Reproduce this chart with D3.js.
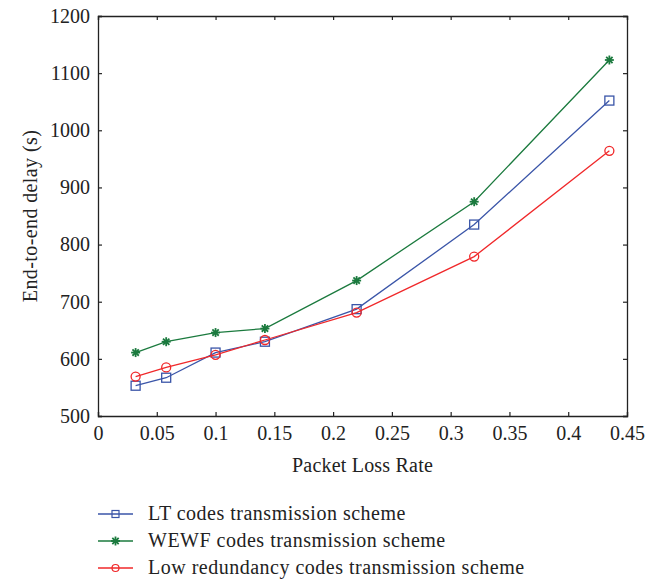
<!DOCTYPE html>
<html>
<head>
<meta charset="utf-8">
<script src="https://cdn.jsdelivr.net/npm/d3@7"></script>
<style>
  body { margin: 0; background: #fff; }
  text { font-family: "Liberation Serif", "DejaVu Serif", serif; fill: #222; }
</style>
</head>
<body>
<svg id="chart" width="665" height="580"></svg>
<script>
// data
const lossRate = [0.032, 0.058, 0.1, 0.142, 0.22, 0.32, 0.435]
const ltDelay = [553, 567, 611, 630, 687, 835, 1052]
const wewfDelay = [611, 630, 646, 653, 737, 875, 1123]
const lowRedDelay = [569, 585, 607, 633, 681, 779, 964]
const xTicks = [0, 0.05, 0.1, 0.15, 0.2, 0.25, 0.3, 0.35, 0.4, 0.45]
const yTicks = [500, 600, 700, 800, 900, 1000, 1100, 1200]
const seriesNames = ["LT codes transmission scheme", "WEWF codes transmission scheme", "Low redundancy codes transmission scheme"]
const seriesColors = ["#3a55a8", "#1b7a3e", "#f0282a"]
const seriesMarkers = ["square", "star", "circle"]

const series = [ltDelay, wewfDelay, lowRedDelay].map((vals, i) => ({
    name: seriesNames[i],
    color: seriesColors[i],
    marker: seriesMarkers[i],
    points: vals.map((v, j) => [lossRate[j], v])
}))

const svg = d3.select("#chart")
const plotL = 98, plotT = 16, plotR = 627, plotB = 416

let x = d3.scaleLinear().domain([0, 0.45]).range([plotL, plotR])
let y = d3.scaleLinear().domain([500, 1200]).range([plotB, plotT])

// axes: ticks pointing inward, box on all sides
const fmtX = d => d === 0 ? "0" : String(d)
svg.append("g").attr("transform", `translate(0,${plotB})`)
    .call(d3.axisBottom(x).tickValues(xTicks).tickSize(-4).tickPadding(10).tickFormat(fmtX))
svg.append("g").attr("transform", `translate(0,${plotT})`)
    .call(d3.axisTop(x).tickValues(xTicks).tickSize(-4).tickFormat(""))
svg.append("g").attr("transform", `translate(${plotL},0)`)
    .call(d3.axisLeft(y).tickValues(yTicks).tickSize(-4).tickPadding(8).tickFormat(d3.format("d")))
svg.append("g").attr("transform", `translate(${plotR},0)`)
    .call(d3.axisRight(y).tickValues(yTicks).tickSize(-4).tickFormat(""))

svg.selectAll(".domain").attr("stroke", "#222").attr("stroke-width", 1.3)
svg.selectAll(".tick line").attr("stroke", "#222").attr("stroke-width", 1.2)
svg.selectAll(".tick text").attr("font-size", 20).attr("fill", "#222")
    .attr("font-family", "Liberation Serif, serif")

// axis titles
svg.append("text")
    .attr("x", (plotL + plotR) / 2).attr("y", 472)
    .attr("text-anchor", "middle").attr("font-size", 20).attr("letter-spacing", 0.2)
    .text("Packet Loss Rate")
svg.append("text")
    .attr("transform", `translate(37,${(plotT + plotB) / 2}) rotate(-90)`)
    .attr("text-anchor", "middle").attr("font-size", 20).attr("letter-spacing", 0.4)
    .text("End-to-end delay (s)")

function drawMarker(g, type, color, cx, cy) {
    if (type == "square") {
        g.append("rect").attr("x", cx - 4.5).attr("y", cy - 4.5)
            .attr("width", 9).attr("height", 9)
            .attr("fill", "none").attr("stroke", color).attr("stroke-width", 1.3)
    } else if (type == "circle") {
        g.append("circle").attr("cx", cx).attr("cy", cy).attr("r", 4.5)
            .attr("fill", "none").attr("stroke", color).attr("stroke-width", 1.3)
    } else {
        const r = 4.5
        for (let k = 0; k < 4; k++) {
            const a = k * Math.PI / 4
            g.append("line")
                .attr("x1", cx - r * Math.cos(a)).attr("y1", cy - r * Math.sin(a))
                .attr("x2", cx + r * Math.cos(a)).attr("y2", cy + r * Math.sin(a))
                .attr("stroke", color).attr("stroke-width", 1.8)
        }
        g.append("circle").attr("cx", cx).attr("cy", cy).attr("r", 2).attr("fill", color)
    }
}

const line = d3.line().x(d => x(d[0])).y(d => y(d[1]))

series.forEach(s => {
    const g = svg.append("g")
    g.append("path").datum(s.points)
        .attr("d", line).attr("fill", "none")
        .attr("stroke", s.color).attr("stroke-width", 1.3)
    s.points.forEach(p => drawMarker(g, s.marker, s.color, x(p[0]), y(p[1])))
})

// legend
const legendY = [514, 541, 568]
series.forEach((s, i) => {
    const g = svg.append("g")
    g.append("line").attr("x1", 98).attr("x2", 133)
        .attr("y1", legendY[i]).attr("y2", legendY[i])
        .attr("stroke", s.color).attr("stroke-width", 1.3)
    if (s.marker == "square") {
        g.append("rect").attr("x", 112).attr("y", legendY[i] - 3.5).attr("width", 7).attr("height", 7)
            .attr("fill", "none").attr("stroke", s.color).attr("stroke-width", 1.2)
    } else if (s.marker == "circle") {
        g.append("circle").attr("cx", 115.5).attr("cy", legendY[i]).attr("r", 3.5)
            .attr("fill", "none").attr("stroke", s.color).attr("stroke-width", 1.2)
    } else {
        drawMarker(g, "star", s.color, 115.5, legendY[i])
    }
    g.append("text").attr("x", 148).attr("y", legendY[i] + 6)
        .attr("font-size", 20).attr("letter-spacing", 0.5).text(s.name)
})
</script>
</body>
</html>
